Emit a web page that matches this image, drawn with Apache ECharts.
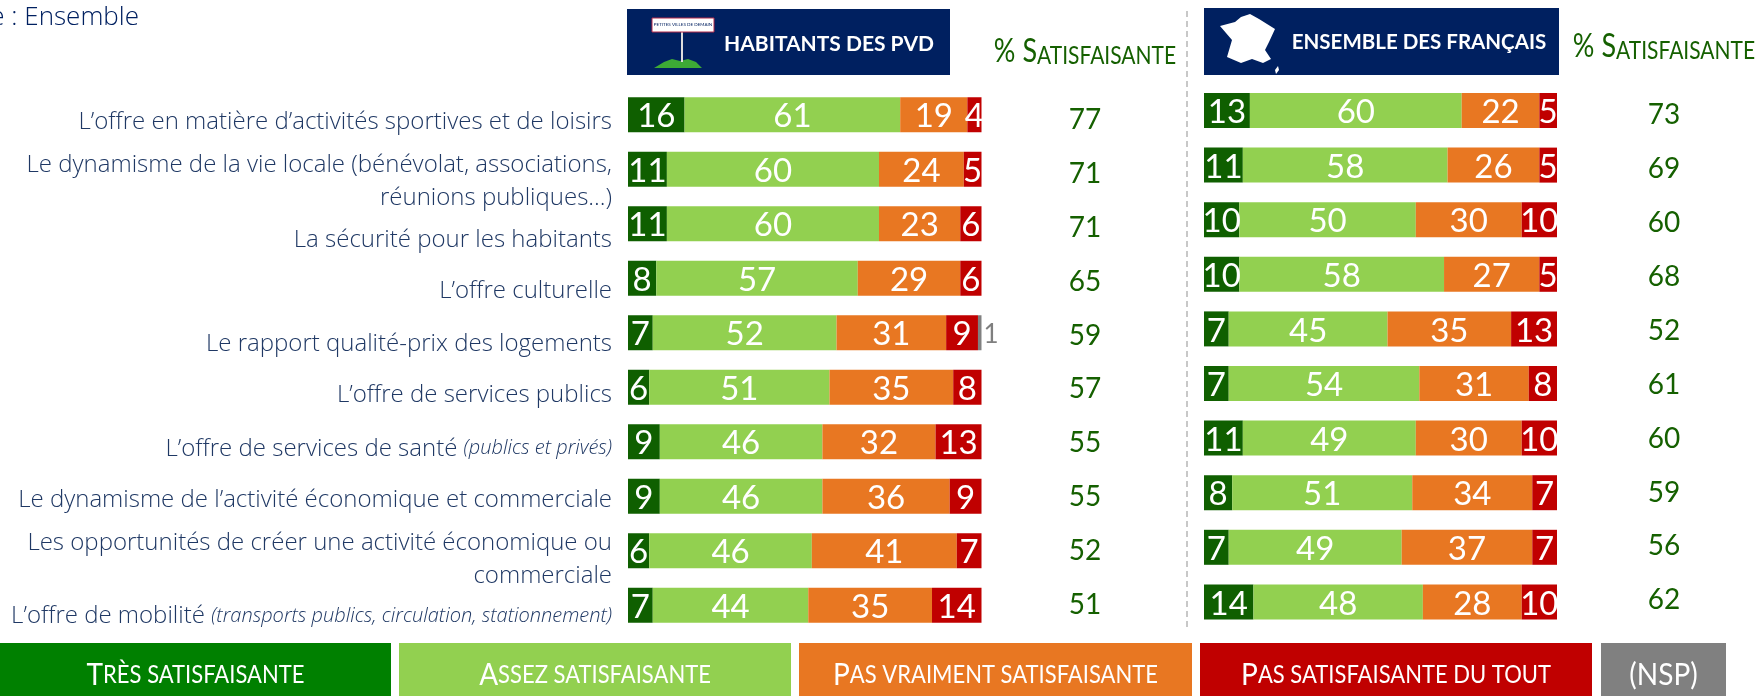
<!DOCTYPE html>
<html><head><meta charset="utf-8">
<style>html,body{margin:0;padding:0;background:#fff}#c{width:1757px;height:696px}</style>
<script src="https://cdn.jsdelivr.net/npm/echarts@6/dist/echarts.min.js"></script>
</head><body><div id="c"></div>
<script>
const categories = [
 "L’offre en matière d’activités sportives et de loisirs",
 "Le dynamisme de la vie locale (bénévolat, associations,\nréunions publiques...)",
 "La sécurité pour les habitants",
 "L’offre culturelle",
 "Le rapport qualité-prix des logements",
 "L’offre de services publics",
 "L’offre de services de santé {i|(publics et privés)}",
 "Le dynamisme de l’activité économique et commerciale",
 "Les opportunités de créer une activité économique ou\ncommerciale",
 "L’offre de mobilité {i|(transports publics, circulation, stationnement)}"
];
const labelNudge = [7,12,16,13,11,8,7,4,9,11];
const seriesNames = ["Très satisfaisante","Assez satisfaisante","Pas vraiment satisfaisante","Pas satisfaisante du tout","(NSP)"];
const seriesColors = ["#0F5F00","#92D050","#E87722","#C00000","#808080"];
const legendColors = ["#008000","#92D050","#E87722","#C00000","#808080"];

const pvdTres  = [16,11,11,8,7,6,9,9,6,7];
const pvdAssez = [61,60,60,57,52,51,46,46,46,44];
const pvdPas   = [19,24,23,29,31,35,32,36,41,35];
const pvdTout  = [4,5,6,6,9,8,13,9,7,14];
const pvdNsp   = [0,0,0,0,1,0,0,0,0,0];
const pvdSat   = [77,71,71,65,59,57,55,55,52,51];

const frTres  = [13,11,10,10,7,7,11,8,7,14];
const frAssez = [60,58,50,58,45,54,49,51,49,48];
const frPas   = [22,26,30,27,35,31,30,34,37,28];
const frTout  = [5,5,10,5,13,8,10,7,7,10];
const frSat   = [73,69,60,68,52,61,60,59,56,62];

const FONT = "Lato", NAVY = "#002060", TXT = "#1F3864", GREEN = "#156000";

function hiddenX(g){return {gridIndex:g,type:'value',min:0,max:100,show:false};}
function stack(vals,grid,id){
  return vals.map((v,i)=>({
    name:seriesNames[i],type:'bar',stack:id,xAxisIndex:grid,yAxisIndex:grid,data:v,barWidth:35,
    itemStyle:{color:seriesColors[i]},silent:true,
    label:{show:true,position:i===4?'right':'inside',distance:2,offset:[0,2],color:i===4?'#7F7F7F':'#fff',
      fontFamily:FONT,fontSize:i===4?26:33,padding:0,
      formatter:p=>p.value>0?String(p.value):''}
  }));
}
const satAxis=(g,data)=>({gridIndex:g,type:'category',inverse:true,data:data.map(String),
  axisLine:{show:false},axisTick:{show:false},
  axisLabel:{interval:0,margin:0,align:'center',color:GREEN,fontFamily:FONT,fontSize:28}});

const graphic=[];
function rect(x,y,w,h,fill){graphic.push({type:'rect',shape:{x,y,width:w,height:h},style:{fill},silent:true});}
function text(x,y,t,st,scaleY){graphic.push({type:'text',x,y,scaleY:scaleY||1,silent:true,style:Object.assign({text:t,fontFamily:FONT,align:'center',verticalAlign:'middle'},st)});}

rect(627,9,323,66,NAVY); rect(1204,8,355,67,NAVY);
text(829,44,"HABITANTS DES PVD",{fill:'#fff',fontSize:21,fontWeight:'bold'});
text(1419,42,"ENSEMBLE DES FRANÇAIS",{fill:'#fff',fontSize:20.5,fontWeight:'bold'});

// small sign icon
graphic.push({type:'polygon',silent:true,shape:{points:[[654,68],[664,62],[672,59],[680,61],[688,59],[696,62],[702,68]]},style:{fill:'#3DAA35'}});
graphic.push({type:'line',silent:true,shape:{x1:682,y1:32,x2:682,y2:62},style:{stroke:'#ddd',lineWidth:2}});
graphic.push({type:'rect',silent:true,shape:{x:652,y:18,width:62,height:14},style:{fill:'#fff',stroke:'#B22A4A',lineWidth:1}});
text(683,25,"PETITES VILLES DE DEMAIN",{fill:NAVY,fontSize:4.5});

// France outline icon
graphic.push({type:'polygon',silent:true,shape:{points:[[1250,14],[1259,19],[1275,29],[1269,42],[1265,50],[1271,59],[1263,63],[1252,59],[1241,63],[1227,57],[1232,40],[1220,26],[1235,22],[1241,17]]},style:{fill:'#fff'}});
graphic.push({type:'polygon',silent:true,shape:{points:[[1278,66],[1279,70],[1276,74],[1275,70]]},style:{fill:'#fff'}});

// % satisfaisante headers
[[1085,52],[1664,47]].forEach(p=>text(p[0],p[1],"{b|% S}{s|ATISFAISANTE}",{fill:GREEN,
  rich:{b:{fontSize:27,fontFamily:FONT,fill:GREEN,verticalAlign:'bottom'},s:{fontSize:21,fontFamily:FONT,fill:GREEN,verticalAlign:'bottom'}}},1.2));

// divider
graphic.push({type:'line',silent:true,shape:{x1:1187,y1:11,x2:1187,y2:631},style:{stroke:'#C8C8C8',lineWidth:2,lineDash:[6,4]}});

// legend boxes
const legendBoxes=[[0,391],[399,392],[799,393],[1200,392],[1601,125]];
seriesNames.forEach((n,i)=>{
  const b=legendBoxes[i]; rect(b[0],643,b[1],53,legendColors[i]);
  const first=i===4?n:n[0], rest=i===4?'':n.slice(1).toUpperCase();
  text(b[0]+b[1]/2,675,i===4?`{b|${first}}`:`{b|${first}}{s|${rest}}`,{
    rich:{b:{fontSize:28,fontFamily:FONT,fill:'#fff'},s:{fontSize:22,fontFamily:FONT,fill:'#fff'}}},1.1);
});
graphic.push({type:'text',x:139,y:18,silent:true,style:{text:"e : Ensemble",fill:NAVY,fontSize:26,fontFamily:"Open Sans",fontWeight:300,align:'right',verticalAlign:'middle'}});

const option={
  animation:false,backgroundColor:'#fff',
  grid:[
    {left:628,top:87.5,width:353.5,height:545},
    {left:1204,top:83.2,width:353,height:546},
    {left:1085,top:93,width:0.1,height:539},
    {left:1664,top:88.3,width:0.1,height:539}
  ],
  xAxis:[hiddenX(0),hiddenX(1),hiddenX(2),hiddenX(3)],
  yAxis:[
    {gridIndex:0,type:'category',inverse:true,
     data:categories.map((c,i)=>({value:c,textStyle:{padding:[labelNudge[i]*2,0,0,0]}})),
     axisLine:{show:false},axisTick:{show:false},
     axisLabel:{interval:0,margin:16,align:'right',color:TXT,fontFamily:"Open Sans",fontWeight:300,fontSize:24,lineHeight:33,
       rich:{i:{fontFamily:"Open Sans",fontStyle:'italic',fontWeight:300,fontSize:20,color:TXT,lineHeight:33}}}},
    {gridIndex:1,type:'category',inverse:true,data:categories,show:false},
    satAxis(2,pvdSat),satAxis(3,frSat)
  ],
  series:[
    ...stack([pvdTres,pvdAssez,pvdPas,pvdTout,pvdNsp],0,'pvd'),
    ...stack([frTres,frAssez,frPas,frTout],1,'fr')
  ],
  graphic:{elements:graphic}
};
const chart=echarts.init(document.getElementById('c'),null,{renderer:'canvas'});
chart.setOption(option);
</script></body></html>
